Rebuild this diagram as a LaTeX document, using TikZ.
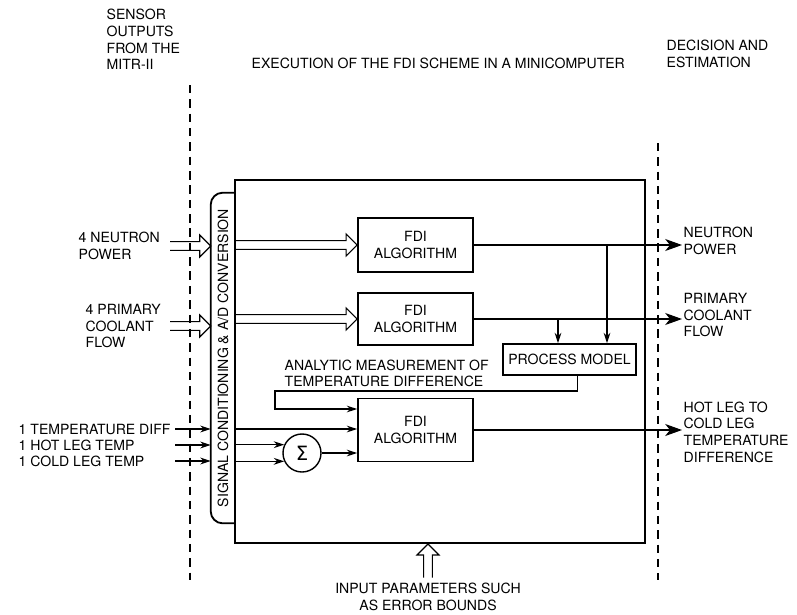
\documentclass[tikz,border=0pt]{standalone}
\usepackage{fontspec}
\setmainfont{TeX Gyre Heros}
\newfontfamily\symfont{DejaVu Sans}
\usetikzlibrary{arrows.meta,calc,positioning}

\begin{document}
\begin{tikzpicture}[x=0.025cm,y=-0.025cm,
    font=\fontsize{10}{11.8}\selectfont,
    txt/.style={align=left,inner sep=1pt},
    blk/.style={draw,line width=1.3pt,minimum width=2.875cm,align=center},
    ln/.style={line width=0.8pt},
    arr/.style={ln,-{Stealth[length=2.6mm,width=1.7mm]}},
    outarr/.style={ln,-{Stealth[length=4.2mm,width=3mm,inset=1.2mm]}},
    sep/.style={line width=0.9pt,dash pattern=on 6pt off 4.2pt},
    hollow/.style={ln,to path={
      let \p1=($(\tikztotarget)!2.75mm!(\tikztostart)$) in
      ($(\tikztostart)!1.1mm!90:(\tikztotarget)$)
      -- ($(\p1)!1.1mm!90:(\tikztotarget)$)
      -- ($(\p1)!2.75mm!90:(\tikztotarget)$)
      -- (\tikztotarget)
      -- ($(\p1)!2.75mm!-90:(\tikztotarget)$)
      -- ($(\p1)!1.1mm!-90:(\tikztotarget)$)
      -- ($(\tikztostart)!1.1mm!-90:(\tikztotarget)$)}}]
  \useasboundingbox (0,0) rectangle (797,614);

  % headings
  \node[txt,anchor=west] (sensor) at (105,39.5) {SENSOR\\OUTPUTS\\FROM THE\\MITR-II};
  \node[txt,anchor=west] (exec) at (250,63) {EXECUTION OF THE FDI SCHEME IN A MINICOMPUTER};
  \node[txt,anchor=west] (decis) at (665,54) {DECISION AND\\ESTIMATION};
  \draw[sep] (190,85) -- (190,580);
  \draw[sep] (658,143) -- (658,580);

  % minicomputer
  \node[draw,line width=1.3pt,minimum width=10.25cm,minimum height=9.075cm,inner sep=0] (comp) at (440,361.5) {};
  \node[minimum width=0.6cm,minimum height=8.25cm,inner sep=0] (adc) at (223,358) {};
  \draw[line width=1.3pt,rounded corners=0.3cm] (adc.north east) -- (adc.north west) -- (adc.south west) -- (adc.south east);
  \node[rotate=90] (adctext) at (adc) {SIGNAL CONDITIONING \& A/D CONVERSION};

  \node[blk,minimum height=1.35cm] (fdi1) at (415.5,245) {FDI\\ALGORITHM};
  \node[blk,minimum height=1.3cm] (fdi2) at (415.5,319) {FDI\\ALGORITHM};
  \node[blk,minimum height=1.575cm] (fdi3) at (415.5,430) {FDI\\ALGORITHM};
  \node[draw,line width=1.3pt,minimum width=3.325cm,minimum height=0.775cm] (pm) at (569.5,359.5) {PROCESS MODEL};
  \node[draw,circle,line width=1pt,minimum size=0.95cm,inner sep=0] (sum) at (302,453) {\symfont\fontsize{14}{14}\selectfont Σ};
  \node[txt,anchor=west] (anmeas) at (283,373.5) {ANALYTIC MEASUREMENT OF\\TEMPERATURE DIFFERENCE};

  % sensor inputs
  \coordinate (hx) at (170,0);
  \coordinate (tx) at (175,0);
  \node[txt,anchor=west] (np) at (77,246) {4 NEUTRON\\POWER};
  \node[txt,anchor=west] (pc) at (84,326) {4 PRIMARY\\COOLANT\\FLOW};
  \node[txt,anchor=west] (td) at (17,429) {1 TEMPERATURE DIFF};
  \node[txt,anchor=west] (hl) at (17,445) {1 HOT LEG TEMP};
  \node[txt,anchor=west] (cl) at (17,461) {1 COLD LEG TEMP};
  \draw[hollow] (np -| hx) to (np -| adc.west);
  \draw[hollow] (pc -| hx) to (pc -| adc.west);
  \draw[arr] (td -| tx) -- (td -| adc.west);
  \draw[arr] (hl -| tx) -- (hl -| adc.west);
  \draw[arr] (cl -| tx) -- (cl -| adc.west);

  % inside
  \draw[hollow] (comp.west |- fdi1) to (fdi1.west);
  \draw[hollow] (comp.west |- fdi2) to (fdi2.west);
  \draw[arr] (td -| comp.west) -- (td -| fdi3.west);
  \draw[arr] (comp.west |- sum.155) -- (sum.155);
  \draw[arr] (comp.west |- sum.205) -- (sum.205);
  \draw[arr] (sum.east) -- (sum.east -| fdi3.west);
  \coordinate (tapa) at (607,0);
  \coordinate (tapb) at (558,0);
  \draw[arr] (fdi1 -| tapa) -- (tapa |- pm.north);
  \draw[arr] (fdi2 -| tapb) -- (tapb |- pm.north);
  \coordinate (fb) at (275,391);
  \draw[arr] ([xshift=0.19cm]pm.south) |- (fb) |- ([yshift=0.525cm]fdi3.west);

  % outputs
  \node[txt,anchor=west] (onp) at (682,241) {NEUTRON\\POWER};
  \node[txt,anchor=west] (opc) at (682,315) {PRIMARY\\COOLANT\\FLOW};
  \node[txt,anchor=west] (otd) at (682,432) {HOT LEG TO\\COLD LEG\\TEMPERATURE\\DIFFERENCE};
  \draw[outarr] (fdi1.east) -- (fdi1 -| onp.west);
  \draw[outarr] (fdi2.east) -- (fdi2 -| opc.west);
  \draw[outarr] (fdi3.east) -- (fdi3 -| otd.west);

  % parameters
  \node[align=center,inner sep=1pt] (ipb) at (428,597) {INPUT PARAMETERS SUCH\\AS ERROR BOUNDS};
  \draw[hollow] ([yshift=0.1cm]ipb.north) to (ipb.north |- comp.south);
\end{tikzpicture}
\end{document}
